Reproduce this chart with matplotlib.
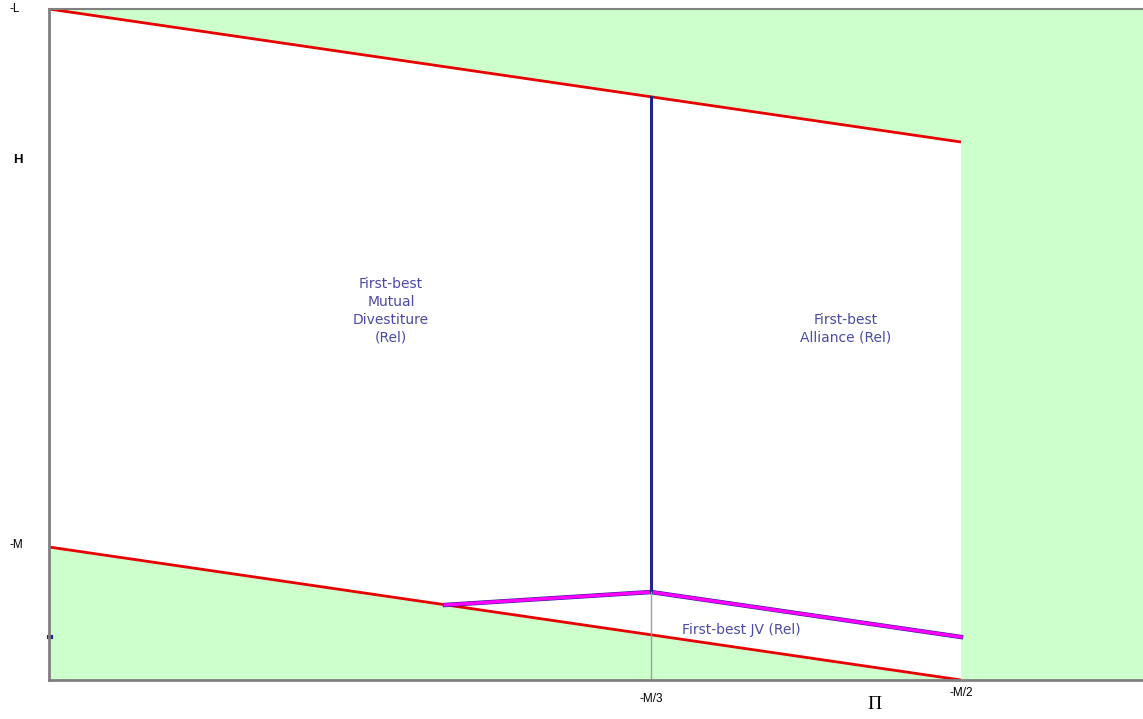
import numpy as np
import matplotlib.pyplot as plt

# Data (x: Pi from left edge to right edge = 0..1, y: 0..1)
x_end = 0.8336          # -M/2
x_mid = 0.5503          # -M/3
upper_x = [0.0, x_end]
upper_y = [1.0, 0.8018]
lower_x = [0.0, x_end]
lower_y = [0.1982, 0.0]
jv_x = [0.362, x_mid, x_end]
jv_y = [0.1118, 0.1311, 0.0641]
split_top = 0.8689
split_bottom = 0.1311

xtick_pos = [x_mid, x_end]
xtick_lab = ["-M/3", "-M/2"]
ytick_pos = [1.0, 0.2012]
ytick_lab = ["-L", "-M"]

green = "#ccffcc"
red = "#e60000"
navy = "#23238e"
magenta = "#ff00ff"
txt = "#4b4ba5"

fig = plt.figure(figsize=(11.43, 7.19), dpi=100)
ax = fig.add_axes([49 / 1143, 39 / 719, 1094 / 1143, 671 / 719])
ax.set_xlim(0, 1)
ax.set_ylim(0, 1)

# Green regions
ax.fill_between(upper_x, upper_y, 1.0, color=green, lw=0)
ax.fill_between(lower_x, 0, lower_y, color=green, lw=0)
ax.axvspan(x_end, 1.0, color=green, lw=0)

# Boundary lines
ax.plot(upper_x, upper_y, color=red, lw=2.0, solid_capstyle="butt")
ax.plot(lower_x, lower_y, color=red, lw=2.0, solid_capstyle="butt")
ax.plot(jv_x, jv_y, color=navy, lw=3.2)
ax.plot(jv_x, jv_y, color=magenta, lw=2.4)
ax.plot([x_mid, x_mid], [split_bottom, split_top], color=navy, lw=2.2)
ax.plot([x_mid, x_mid], [0, split_bottom], color="#a0a0a0", lw=1.0)
ax.plot([0.0, 0.002], [jv_y[-1], jv_y[-1]], color=navy, lw=3, clip_on=False)

# Region labels
ax.text(0.3126, 0.55, "First-best\nMutual\nDivestiture\n(Rel)", color=txt,
        fontsize=10, ha="center", va="center", linespacing=1.35)
ax.text(0.7285, 0.523, "First-best\nAlliance (Rel)", color=txt,
        fontsize=10, ha="center", va="center", linespacing=1.35)
ax.text(0.6325, 0.0745, "First-best JV (Rel)", color=txt,
        fontsize=10, ha="center", va="center")

# Axes styling
for s in ["left", "bottom", "top"]:
    ax.spines[s].set_color("#808080")
    ax.spines[s].set_linewidth(2)
ax.spines["top"].set_linewidth(1.5)
ax.spines["right"].set_visible(False)

ax.set_xticks([])
ax.set_yticks([])
xoff = [-0.029, -0.020]
for p, lab, dy in zip(xtick_pos, xtick_lab, xoff):
    ax.text(p, dy, lab, transform=ax.get_xaxis_transform(), fontsize=8.5,
            family="Liberation Sans", ha="center", va="center")
for p, lab in zip(ytick_pos, ytick_lab):
    ax.text(-0.036, p, lab, transform=ax.get_yaxis_transform(), fontsize=8.5,
            family="Liberation Sans", ha="left", va="center")
ax.text(-0.028, 0.775, "H", transform=ax.get_yaxis_transform(), fontsize=9.5,
        fontweight="bold", family="Liberation Sans", ha="center", va="center")
ax.text(0.755, -0.037, "\u03a0", transform=ax.transAxes, fontsize=14,
        family="Liberation Serif", ha="center", va="center")

fig.savefig("out.png", dpi=100)
